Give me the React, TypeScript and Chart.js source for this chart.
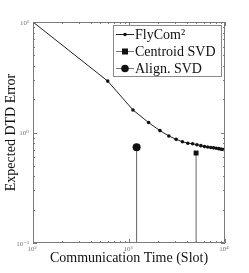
import React, { useEffect, useRef } from "react";
import { Chart, registerables } from "chart.js";

Chart.register(...registerables);

const flyX = [100, 600, 1100, 1600, 2100, 2600, 3100, 3600, 4100, 4600, 5100, 5600, 6100, 6600, 7100, 7600, 8100, 8600, 9100, 9600, 10000];
const flyY = [10, 2.92, 1.6, 1.23, 1.04, 0.93, 0.867, 0.825, 0.8, 0.79, 0.775, 0.76, 0.748, 0.74, 0.731, 0.726, 0.72, 0.714, 0.707, 0.701, 0.698];
const centroidX = 5000;
const centroidY = 0.652;
const alignX = 1200;
const alignY = 0.734;
const yFloor = 0.1;
const legendLabels = ["FlyCom²", "Centroid SVD", "Align. SVD"];
const xTickValues = [100, 1000, 10000];
const xTickLabels = ["10²", "10³", "10⁴"];
const yTickValues = [0.1, 1, 10];
const yTickLabels = ["10⁻¹", "10⁰", "10¹"];
const xTitle = "Communication Time (Slot)";
const yTitle = "Expected DTD Error";

const SERIF = '"Liberation Serif", "DejaVu Serif", serif';

const frameAndLegend = {
  id: "frameAndLegend",
  afterDatasetsDraw(chart: any) {
    const { ctx, chartArea } = chart;
    const { left, right, top, bottom } = chartArea;
    const xs = chart.scales.x;
    const ys = chart.scales.y;
    ctx.save();
    ctx.strokeStyle = "#7a7a7a";
    ctx.lineWidth = 1;
    ctx.beginPath();
    ctx.rect(Math.round(left) + 0.5, Math.round(top) + 0.5, Math.round(right - left) - 1, Math.round(bottom - top) - 1);
    ctx.stroke();
    // inner ticks
    ctx.beginPath();
    for (const dec of [100, 1000]) {
      for (let k = 1; k <= 10; k++) {
        const v = dec * k;
        const px = Math.round(xs.getPixelForValue(v)) + 0.5;
        const len = k === 1 || k === 10 ? 4 : 2;
        ctx.moveTo(px, bottom);
        ctx.lineTo(px, bottom - len);
        ctx.moveTo(px, top);
        ctx.lineTo(px, top + len);
      }
    }
    for (const dec of [0.1, 1]) {
      for (let k = 1; k <= 10; k++) {
        const v = dec * k;
        const py = Math.round(ys.getPixelForValue(v)) + 0.5;
        const len = k === 1 || k === 10 ? 4 : 2;
        ctx.moveTo(left, py);
        ctx.lineTo(left + len, py);
        ctx.moveTo(right, py);
        ctx.lineTo(right - len, py);
      }
    }
    ctx.stroke();

    // tick labels
    ctx.fillStyle = "#777";
    ctx.font = `7px ${SERIF}`;
    ctx.textBaseline = "middle";
    ctx.textAlign = "center";
    xTickValues.forEach((v, i) => {
      ctx.fillText(xTickLabels[i], xs.getPixelForValue(v) - 1, bottom + 6);
    });
    ctx.textAlign = "right";
    yTickValues.forEach((v, i) => {
      ctx.fillText(yTickLabels[i], left - 4, ys.getPixelForValue(v) + 1);
    });

    // legend
    const bx = 113.5, by = 25.5, bw = 108, bh = 51;
    ctx.fillStyle = "#ffffff";
    ctx.fillRect(bx, by, bw, bh);
    ctx.strokeStyle = "#8a8a8a";
    ctx.strokeRect(bx, by, bw, bh);
    const rows = [34, 51, 68];
    rows.forEach((ry, i) => {
      ctx.strokeStyle = i === 0 ? "#222" : "#777";
      ctx.lineWidth = 1;
      ctx.beginPath();
      ctx.moveTo(116, ry + 0.5);
      ctx.lineTo(134, ry + 0.5);
      ctx.stroke();
      ctx.fillStyle = "#111";
      if (i === 0) {
        ctx.beginPath();
        ctx.arc(125, ry + 0.5, 1.8, 0, Math.PI * 2);
        ctx.fill();
      } else if (i === 1) {
        ctx.fillRect(122, ry - 2.5, 6, 6);
      } else {
        ctx.beginPath();
        ctx.arc(125, ry + 0.5, 3.8, 0, Math.PI * 2);
        ctx.fill();
      }
      ctx.font = `14px ${SERIF}`;
      ctx.textBaseline = "middle";
      ctx.textAlign = "left";
      ctx.fillText(legendLabels[i], 135, ry + 1);
    });
    ctx.restore();
  },
};

export default function App() {
  const ref = useRef<HTMLCanvasElement>(null);
  useEffect(() => {
    document.body.style.margin = "0";
    const chart = new Chart(ref.current!, {
      type: "line",
      data: {
        datasets: [
          {
            label: legendLabels[0],
            data: flyX.map((x, i) => ({ x, y: flyY[i] })),
            borderColor: "#222",
            borderWidth: 1,
            pointRadius: 1.8,
            pointBackgroundColor: "#111",
            pointBorderWidth: 0,
            tension: 0,
          },
          {
            label: legendLabels[1],
            data: [
              { x: centroidX, y: yFloor },
              { x: centroidX, y: centroidY },
            ],
            borderColor: "#666",
            borderWidth: 1,
            pointStyle: "rect",
            pointRadius: [0, 3.5],
            pointBackgroundColor: "#111",
            pointBorderWidth: 0,
          },
          {
            label: legendLabels[2],
            data: [
              { x: alignX, y: yFloor },
              { x: alignX, y: alignY },
            ],
            borderColor: "#666",
            borderWidth: 1,
            pointStyle: "circle",
            pointRadius: [0, 4],
            pointBackgroundColor: "#111",
            pointBorderWidth: 0,
          },
        ],
      },
      options: {
        responsive: false,
        animation: false,
        layout: { padding: { top: 22, right: 24, left: 0, bottom: 0 } },
        plugins: { legend: { display: false }, tooltip: { enabled: false } },
        scales: {
          x: {
            type: "logarithmic",
            min: 100,
            max: 10000,
            grid: { display: false, drawTicks: false },
            border: { display: false },
            ticks: { display: false },
            title: {
              display: true,
              text: xTitle,
              color: "#111",
              font: { size: 14, family: SERIF },
              padding: { top: 0, bottom: 6 },
            },
            afterFit: (s: any) => {
              s.height = 30;
            },
          },
          y: {
            type: "logarithmic",
            min: 0.1,
            max: 10,
            grid: { display: false, drawTicks: false },
            border: { display: false },
            ticks: { display: false },
            title: {
              display: true,
              text: yTitle,
              color: "#111",
              font: { size: 14, family: SERIF },
              padding: { top: 3, bottom: 0 },
            },
            afterFit: (s: any) => {
              s.width = 33;
            },
          },
        },
      },
      plugins: [frameAndLegend],
    } as any);
    return () => chart.destroy();
  }, []);
  return (
    <div style={{ position: "fixed", left: 0, top: 0, width: 249, height: 273, background: "#fff" }}>
      <canvas ref={ref} width={249} height={273} />
    </div>
  );
}
